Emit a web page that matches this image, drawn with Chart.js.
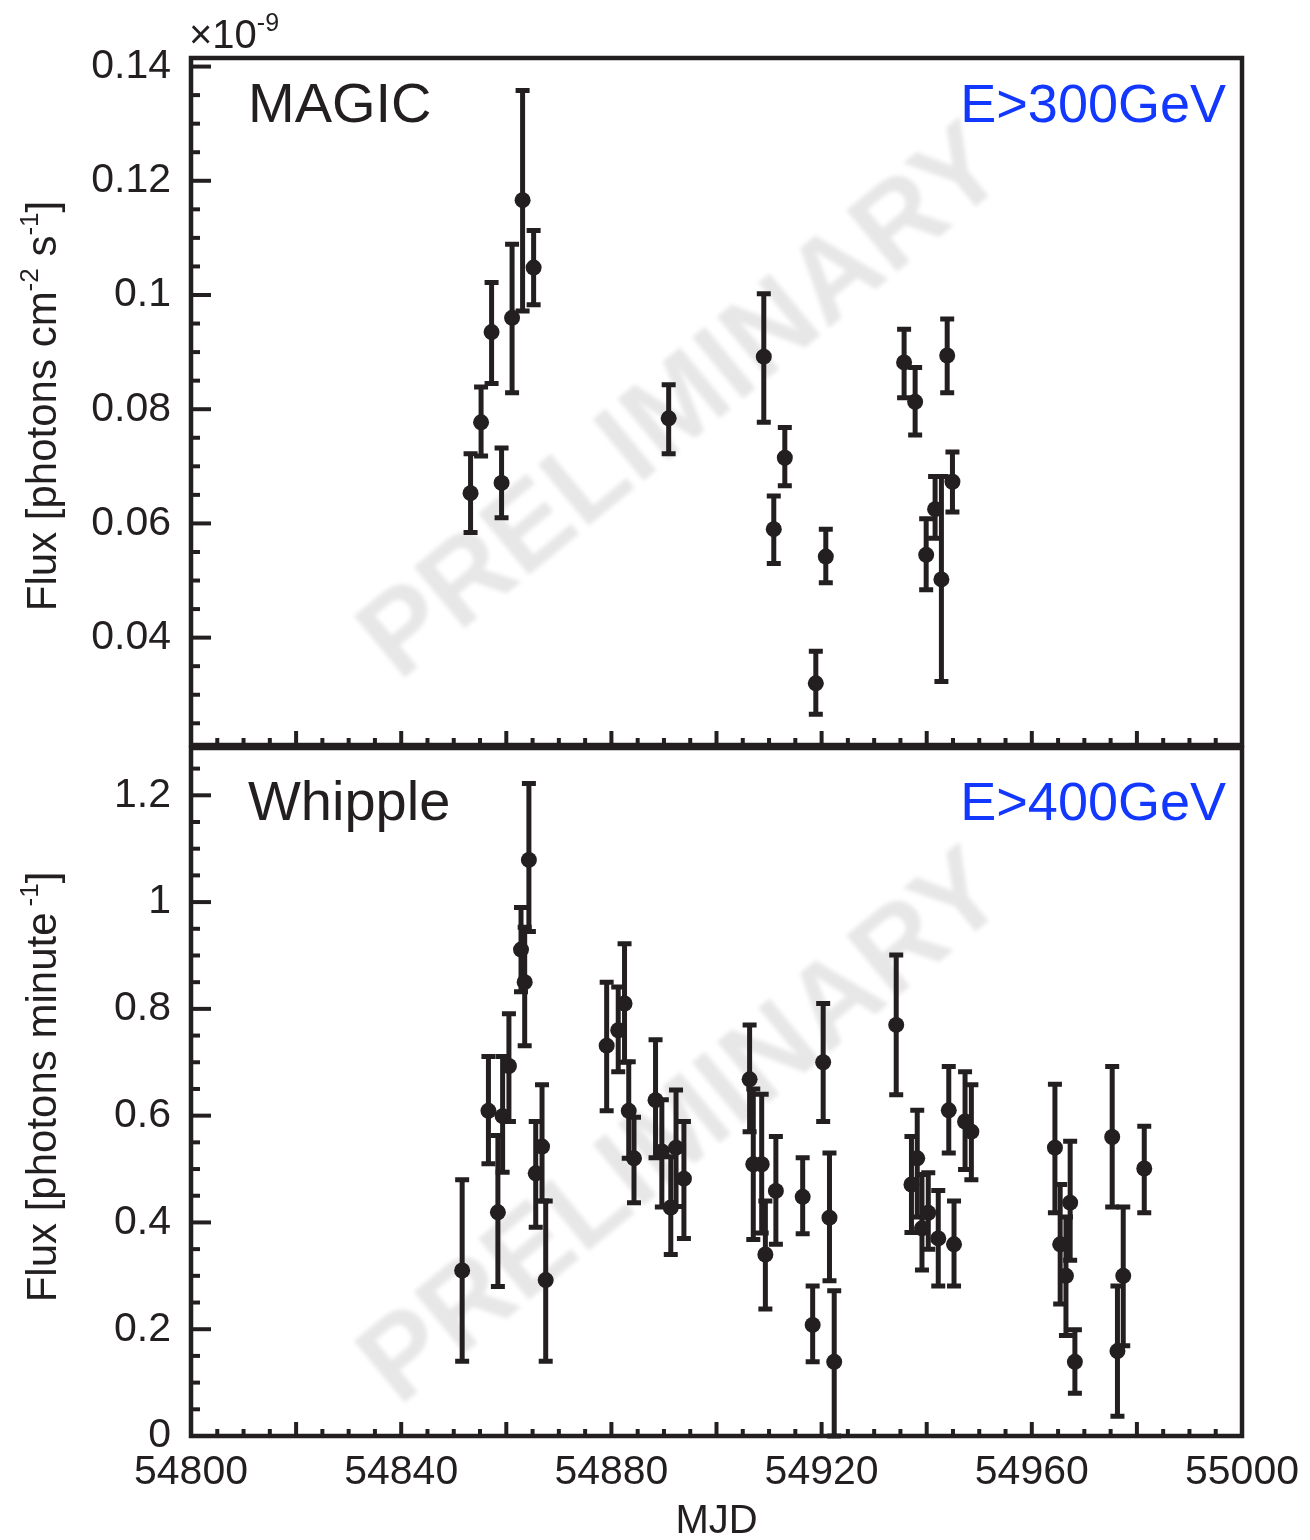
<!DOCTYPE html>
<html>
<head>
<meta charset="utf-8">
<script src="https://cdn.jsdelivr.net/npm/chart.js@4.4.1/dist/chart.umd.min.js"></script>
<style>
  body { margin: 0; background: #fff; width: 1310px; height: 1540px; position: relative; overflow: hidden; }
  canvas { position: absolute; left: 0; }
  #magic { top: 0; }
  #whipple { top: 740px; }
</style>
</head>
<body>
<canvas id="magic" width="1310" height="760"></canvas>
<canvas id="whipple" width="1310" height="800"></canvas>
<script>
// MAGIC, E>300GeV, flux in units of 1e-9 photons cm^-2 s^-1
const magicMjd  = [54853.2, 54855.2, 54857.2, 54859.1, 54861.1, 54863.1, 54865.2, 54890.9, 54909.0, 54910.9,
                   54913.0, 54918.9, 54920.8, 54935.7, 54937.8, 54939.9, 54941.6, 54942.8, 54943.9, 54944.9];
const magicFlux = [0.0653, 0.0777, 0.0935, 0.0671, 0.0960, 0.1166, 0.1048, 0.0784, 0.0892, 0.0590,
                   0.0715, 0.0320, 0.0542, 0.0882, 0.0813, 0.0545, 0.0625, 0.0502, 0.0894, 0.0673];
const magicLow  = [0.0584, 0.0718, 0.0845, 0.0610, 0.0829, 0.0972, 0.0983, 0.0722, 0.0777, 0.0530,
                   0.0666, 0.0266, 0.0496, 0.0820, 0.0755, 0.0484, 0.0574, 0.0323, 0.0829, 0.0620];
const magicHigh = [0.0722, 0.0839, 0.1022, 0.0732, 0.1089, 0.1358, 0.1113, 0.0843, 0.1002, 0.0648,
                   0.0768, 0.0376, 0.0590, 0.0940, 0.0873, 0.0608, 0.0682, 0.0682, 0.0958, 0.0725];

// Whipple, E>400GeV, flux in photons / minute
const whippleMjd  = [54851.6, 54856.6, 54858.4, 54859.3, 54860.5, 54862.8, 54863.5, 54864.3, 54865.6, 54866.8,
                     54867.5, 54879.1, 54881.3, 54882.5, 54883.3, 54884.3, 54888.4, 54889.6, 54891.3, 54892.3,
                     54893.8, 54906.3, 54907.0, 54908.6, 54909.3, 54911.3, 54916.4, 54918.3, 54920.3, 54921.5,
                     54922.4, 54934.2, 54937.1, 54938.2, 54939.1, 54940.3, 54942.2, 54944.2, 54945.2, 54947.3,
                     54948.5, 54964.4, 54965.4, 54966.5, 54967.3, 54968.2, 54975.3, 54976.3, 54977.4, 54981.4];
const whippleFlux = [0.310, 0.609, 0.419, 0.599, 0.693, 0.911, 0.850, 1.079, 0.492, 0.542,
                     0.292, 0.731, 0.760, 0.810, 0.609, 0.520, 0.629, 0.533, 0.428, 0.540,
                     0.482, 0.668, 0.509, 0.509, 0.340, 0.459, 0.448, 0.208, 0.700, 0.409,
                     0.139, 0.770, 0.471, 0.520, 0.389, 0.418, 0.370, 0.610, 0.359, 0.589,
                     0.570, 0.540, 0.359, 0.300, 0.437, 0.139, 0.560, 0.159, 0.300, 0.501];
const whippleLow  = [0.140, 0.510, 0.280, 0.494, 0.589, 0.832, 0.731, 0.945, 0.391, 0.440,
                     0.140, 0.609, 0.682, 0.700, 0.520, 0.437, 0.521, 0.429, 0.340, 0.430,
                     0.370, 0.570, 0.368, 0.380, 0.238, 0.359, 0.379, 0.139, 0.589, 0.291,
                     0.000, 0.639, 0.381, 0.410, 0.311, 0.350, 0.281, 0.530, 0.281, 0.499,
                     0.480, 0.418, 0.247, 0.188, 0.329, 0.080, 0.429, 0.037, 0.169, 0.418];
const whippleHigh = [0.480, 0.711, 0.563, 0.711, 0.791, 0.990, 0.953, 1.222, 0.589, 0.658,
                     0.440, 0.850, 0.841, 0.922, 0.701, 0.597, 0.742, 0.630, 0.523, 0.648,
                     0.589, 0.770, 0.650, 0.640, 0.440, 0.561, 0.521, 0.281, 0.810, 0.530,
                     0.272, 0.901, 0.561, 0.610, 0.490, 0.493, 0.460, 0.692, 0.440, 0.682,
                     0.658, 0.659, 0.471, 0.410, 0.552, 0.199, 0.692, 0.281, 0.429, 0.580];

// tick labels
const mjdLabels     = [54800, 54840, 54880, 54920, 54960, 55000];
const magicLabels   = [0.04, 0.06, 0.08, 0.1, 0.12, 0.14];
const whippleLabels = [0, 0.2, 0.4, 0.6, 0.8, 1, 1.2];

const ink = '#231f20';
const blue = '#1238ff';
const family = "'Liberation Sans', Arial, Helvetica, sans-serif";

function near(v, step) {
    return Math.abs(v / step - Math.round(v / step)) < 1e-6;
}

function hasLabel(list, v) {
    return list.some(l => Math.abs(l - v) < 1e-9);
}

function noPad(s) {
    s.paddingTop = 0; s.paddingBottom = 0;
    s.paddingLeft = 0; s.paddingRight = 0;
}

function drawRich(ctx, parts, size, x, y, rot, align) {
    ctx.save();
    ctx.translate(x, y);
    ctx.rotate(rot);
    let w = 0;
    parts.forEach(p => {
        ctx.font = (p.sup ? Math.round(size * 0.62) : size) + 'px ' + family;
        p.w = ctx.measureText(p.t).width + (p.gap || 0);
        w += p.w;
    });
    let cx = align === 'center' ? -w / 2 : (align === 'right' ? -w : 0);
    ctx.textAlign = 'left';
    ctx.textBaseline = 'alphabetic';
    ctx.fillStyle = ink;
    parts.forEach(p => {
        ctx.font = (p.sup ? Math.round(size * 0.62) : size) + 'px ' + family;
        ctx.fillText(p.t, cx + (p.gap || 0), p.sup ? -size * 0.42 : 0);
        cx += p.w;
    });
    ctx.restore();
}

// watermark + error bars under the dots, frame + inside ticks + texts on top
const decor = {
    id: 'decor',
    beforeDatasetsDraw(chart, args, o) {
        const ctx = chart.ctx, a = chart.chartArea;
        ctx.save();
        ctx.beginPath();
        ctx.rect(a.left, a.top, a.right - a.left, a.bottom - a.top);
        ctx.clip();
        ctx.translate(o.wmX, o.wmY);
        ctx.rotate(-39.5 * Math.PI / 180);
        ctx.filter = 'blur(2px)';
        ctx.font = 'bold 116px ' + family;
        ctx.fillStyle = 'rgba(0,0,0,0.095)';
        ctx.textAlign = 'center';
        ctx.textBaseline = 'middle';
        ctx.fillText('PRELIMINARY', 0, 0);
        ctx.restore();

        const xs = chart.scales.x, ys = chart.scales.y;
        ctx.save();
        ctx.strokeStyle = ink;
        ctx.lineWidth = 5;
        o.mjd.forEach((m, i) => {
            const x = xs.getPixelForValue(m);
            const y1 = ys.getPixelForValue(o.low[i]);
            const y2 = ys.getPixelForValue(o.high[i]);
            ctx.beginPath();
            ctx.moveTo(x, y1); ctx.lineTo(x, y2);
            ctx.moveTo(x - 7, y1); ctx.lineTo(x + 7, y1);
            ctx.moveTo(x - 7, y2); ctx.lineTo(x + 7, y2);
            ctx.stroke();
        });
        ctx.restore();
    },
    afterDraw(chart, args, o) {
        const ctx = chart.ctx, a = chart.chartArea;
        const xs = chart.scales.x, ys = chart.scales.y;
        ctx.save();
        ctx.strokeStyle = ink;
        ctx.lineWidth = 4;
        xs.ticks.forEach(t => {
            const x = xs.getPixelForValue(t.value);
            const len = near(t.value, 20) ? 14 : 7;
            ctx.beginPath(); ctx.moveTo(x, a.bottom); ctx.lineTo(x, a.bottom - len); ctx.stroke();
        });
        ys.ticks.forEach(t => {
            const y = ys.getPixelForValue(t.value);
            const len = near(t.value, o.yMajor) ? 20 : 9;
            ctx.beginPath(); ctx.moveTo(a.left, y); ctx.lineTo(a.left + len, y); ctx.stroke();
        });
        ctx.lineWidth = 4.5;
        ctx.strokeRect(a.left, a.top, a.right - a.left, a.bottom - a.top);
        ctx.restore();

        ctx.save();
        ctx.fillStyle = ink;
        ctx.textBaseline = 'alphabetic';
        ctx.font = '56px ' + family;
        ctx.textAlign = 'left';
        ctx.fillText(o.name, a.left + 57, o.nameY);
        ctx.fillStyle = blue;
        ctx.font = '54px ' + family;
        ctx.textAlign = 'right';
        ctx.fillText(o.energy, a.right - 16, o.nameY);
        ctx.restore();

        drawRich(ctx, o.yTitle, 42, 56, o.yTitleY, -Math.PI / 2, 'center');
        if (o.factor) drawRich(ctx, o.factor, 40, a.left - 2, 48, 0, 'left');
        if (o.xTitle) {
            ctx.save();
            ctx.fillStyle = ink;
            ctx.font = '40px ' + family;
            ctx.textAlign = 'center';
            ctx.fillText(o.xTitle, (a.left + a.right) / 2, o.xTitleY);
            ctx.restore();
        }
    }
};

function makeChart(id, mjd, flux, low, high, cfg) {
    const points = mjd.map((m, i) => ({ x: m, y: flux[i] }));
    return new Chart(document.getElementById(id), {
        type: 'scatter',
        data: {
            datasets: [{
                data: points,
                pointRadius: 8,
                pointHoverRadius: 8,
                backgroundColor: ink,
                borderWidth: 0
            }]
        },
        options: {
            responsive: false,
            animation: false,
            events: [],
            layout: { padding: { top: cfg.padTop, right: 68, left: 0, bottom: 0 } },
            plugins: {
                legend: { display: false },
                tooltip: { enabled: false },
                decor: Object.assign({ mjd: mjd, low: low, high: high }, cfg.decor)
            },
            scales: {
                x: {
                    type: 'linear',
                    min: 54800,
                    max: 55000,
                    grid: { display: false },
                    border: { display: false },
                    ticks: {
                        stepSize: 5,
                        includeBounds: false,
                        maxTicksLimit: 1000,
                        autoSkip: false,
                        maxRotation: 0,
                        display: cfg.xLabels,
                        padding: 4,
                        color: ink,
                        font: { family: family, size: 41 },
                        callback: v => hasLabel(mjdLabels, v) ? String(v) : ''
                    },
                    afterBuildTicks: s => { s.ticks = s.ticks.filter(t => near(t.value, 5)); },
                    afterFit: s => { s.height = cfg.xHeight; noPad(s); }
                },
                y: {
                    min: cfg.yMin,
                    max: cfg.yMax,
                    grid: { display: false },
                    border: { display: false },
                    ticks: {
                        stepSize: cfg.yStep,
                        includeBounds: false,
                        maxTicksLimit: 1000,
                        autoSkip: false,
                        padding: 12,
                        color: ink,
                        font: { family: family, size: 41 },
                        callback: v => hasLabel(cfg.yLabels, v) ? String(+v.toFixed(2)) : ''
                    },
                    afterBuildTicks: s => { s.ticks = s.ticks.filter(t => near(t.value, cfg.yStep)); },
                    afterFit: s => { s.width = 191; noPad(s); }
                }
            }
        },
        plugins: [decor]
    });
}

Chart.register({ id: 'decor' });

makeChart('magic', magicMjd, magicFlux, magicLow, magicHigh, {
    padTop: 58, xHeight: 15, xLabels: false,
    yMin: 0.0212, yMax: 0.1415, yStep: 0.005, yLabels: magicLabels,
    decor: {
        yMajor: 0.02, wmX: 685, wmY: 405,
        name: 'MAGIC', energy: 'E>300GeV', nameY: 122,
        yTitle: [{ t: 'Flux [photons cm' }, { t: '-2', sup: true }, { t: ' s' }, { t: '-1', sup: true }, { t: ']' }],
        yTitleY: 406,
        factor: [{ t: '\u00d710' }, { t: '-9', sup: true }]
    }
});

makeChart('whipple', whippleMjd, whippleFlux, whippleLow, whippleHigh, {
    padTop: 5, xHeight: 104, xLabels: true,
    yMin: 0, yMax: 1.2886, yStep: 0.05, yLabels: whippleLabels,
    decor: {
        yMajor: 0.2, wmX: 685, wmY: 390,
        name: 'Whipple', energy: 'E>400GeV', nameY: 80,
        yTitle: [{ t: 'Flux [photons minute' }, { t: '-1', sup: true, gap: 6 }, { t: ']' }],
        yTitleY: 347,
        xTitle: 'MJD', xTitleY: 793
    }
});
</script>
</body>
</html>
